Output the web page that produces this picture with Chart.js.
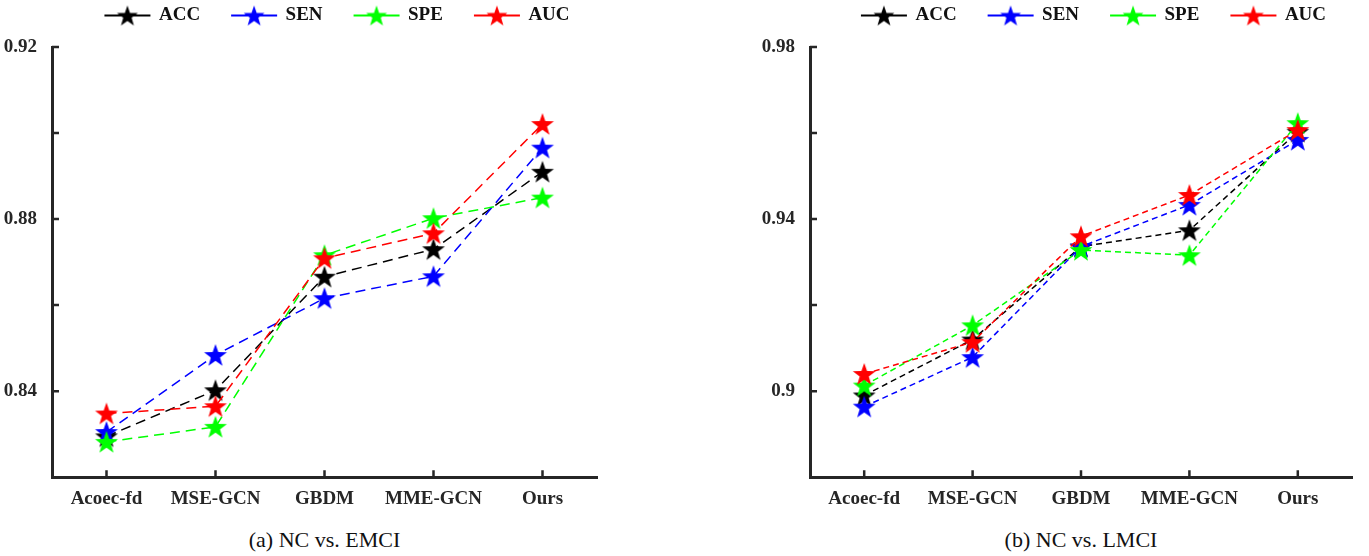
<!DOCTYPE html>
<html>
<head>
<meta charset="utf-8">
<script src="https://cdn.jsdelivr.net/npm/chart.js@4.4.1/dist/chart.umd.min.js"></script>
<style>
  html, body { margin: 0; padding: 0; background: #fff; overflow: hidden; }
  body { width: 1369px; height: 556px; position: relative; }
  .panel { position: absolute; top: 0; }
  .caption {
    position: absolute; top: 527px; font-family: "Liberation Serif", "DejaVu Serif", serif;
    font-size: 22px; color: #111; text-align: center; white-space: nowrap;
  }
</style>
</head>
<body>
<div class="panel" style="left:0;width:640px;height:522px"><canvas id="chartA" width="640" height="522"></canvas></div>
<div class="panel" style="left:758px;width:611px;height:522px"><canvas id="chartB" width="611" height="522"></canvas></div>
<div class="caption" style="left:52px;width:545px">(a) NC vs. EMCI</div>
<div class="caption" style="left:810px;width:542px">(b) NC vs. LMCI</div>
<script>
// ---------------------------------------------------------------------------
// Data
// ---------------------------------------------------------------------------
const METHODS = ["Acoec-fd", "MSE-GCN", "GBDM", "MME-GCN", "Ours"];
const SERIES = ["ACC", "SEN", "SPE", "AUC"];

// (a) NC vs. EMCI
const emciAcc = [0.8295, 0.8402, 0.8666, 0.8730, 0.8910];
const emciSen = [0.8305, 0.8484, 0.8616, 0.8667, 0.8966];
const emciSpe = [0.8282, 0.8317, 0.8716, 0.8802, 0.8850];
const emciAuc = [0.8348, 0.8365, 0.8709, 0.8767, 0.9021];

// (b) NC vs. LMCI
const lmciAcc = [0.8990, 0.9120, 0.9336, 0.9374, 0.9603];
const lmciSen = [0.8964, 0.9079, 0.9336, 0.9433, 0.9584];
const lmciSpe = [0.9013, 0.9153, 0.9328, 0.9316, 0.9623];
const lmciAuc = [0.9040, 0.9114, 0.9360, 0.9456, 0.9607];

const COLORS = ["#000000", "#0000ff", "#00ff00", "#ff0000"];
const AXIS = "#262626";
const FONT = "'Liberation Serif', 'Times New Roman', serif";

// ---------------------------------------------------------------------------
// Marker images: filled five-point star, and line + star for the legend
// ---------------------------------------------------------------------------
function starPath(ctx, cx, cy, r) {
  ctx.beginPath();
  for (let i = 0; i < 10; i++) {
    const a = -Math.PI / 2 + i * Math.PI / 5;
    const rr = i % 2 ? r * 0.4 : r;
    const px = cx + rr * Math.cos(a), py = cy + rr * Math.sin(a);
    i ? ctx.lineTo(px, py) : ctx.moveTo(px, py);
  }
  ctx.closePath();
}

function starImg(color, r) {
  const c = document.createElement("canvas");
  c.width = c.height = Math.ceil(2 * r + 4);
  const ctx = c.getContext("2d");
  starPath(ctx, c.width / 2, c.height / 2 + 1, r);
  ctx.fillStyle = color;
  ctx.fill();
  return c;
}

function legendImg(color) {
  const c = document.createElement("canvas");
  c.width = 80; c.height = 26;
  const ctx = c.getContext("2d");
  ctx.strokeStyle = color;
  ctx.lineWidth = 2;
  ctx.beginPath(); ctx.moveTo(30, 13); ctx.lineTo(76, 13); ctx.stroke();
  starPath(ctx, 53, 14, 11);
  ctx.fillStyle = color;
  ctx.fill();
  return c;
}

const starImgs = COLORS.map(c => starImg(c, 12));
const legendImgs = COLORS.map(c => legendImg(c));

// inward tick marks on both axes
const innerTicks = {
  id: "innerTicks",
  afterDraw(chart) {
    const { ctx, chartArea, scales: { x, y } } = chart;
    ctx.save();
    ctx.strokeStyle = AXIS;
    ctx.lineWidth = 2.5;
    ctx.beginPath();
    y.ticks.forEach((t, i) => {
      const py = y.getPixelForTick(i);
      ctx.moveTo(chartArea.left, py); ctx.lineTo(chartArea.left + 7, py);
    });
    x.ticks.forEach((t, i) => {
      const px = x.getPixelForTick(i);
      ctx.moveTo(px, chartArea.bottom); ctx.lineTo(px, chartArea.bottom - 7);
    });
    ctx.stroke();
    ctx.restore();
  }
};

// legend sits in a 47px band above the plot
const legendBand = {
  id: "legendBand",
  beforeInit(chart) {
    const fit = chart.legend.fit;
    chart.legend.fit = function () {
      fit.call(this);
      this.height = 47;
    };
  }
};

function makeChart(id, seriesValues, yMin, yMax, dash, padRight) {
  const datasets = SERIES.map((name, i) => ({
    label: name,
    data: seriesValues[i],
    borderColor: COLORS[i],
    backgroundColor: COLORS[i],
    borderWidth: 1.5,
    borderDash: dash,
    pointStyle: starImgs[i],
    pointRadius: 12,
    pointHoverRadius: 12,
    order: SERIES.length - i,   // AUC drawn on top
    tension: 0,
  }));

  return new Chart(document.getElementById(id), {
    type: "line",
    data: { labels: METHODS, datasets },
    plugins: [innerTicks, legendBand],
    options: {
      responsive: false,
      animation: false,
      events: [],
      layout: { padding: { left: 0, right: padRight, top: 0, bottom: 10 } },
      plugins: {
        tooltip: { enabled: false },
        legend: {
          position: "top",
          fullSize: false,
          labels: {
            usePointStyle: true,
            pointStyleWidth: 70,
            padding: 6,
            color: "#111",
            font: { family: FONT, size: 19, weight: "bold" },
            sort: (a, b) => a.datasetIndex - b.datasetIndex,
            generateLabels(chart) {
              const items = Chart.defaults.plugins.legend.labels.generateLabels(chart);
              items.forEach(it => { it.pointStyle = legendImgs[it.datasetIndex]; });
              return items;
            }
          }
        }
      },
      scales: {
        x: {
          offset: true,
          grid: { display: false },
          border: { display: true, color: AXIS, width: 3 },
          ticks: { color: AXIS, padding: 2, font: { family: FONT, size: 19, weight: "bold" }, maxRotation: 0 }
        },
        y: {
          min: yMin,
          max: yMax,
          afterFit(scale) { scale.width = 52; },
          grid: { display: false },
          border: { display: true, color: AXIS, width: 3 },
          ticks: {
            stepSize: 0.02,
            padding: 7,
            color: AXIS,
            font: { family: FONT, size: 19, weight: "bold" },
            callback: (v, i) => (i % 2 === 1 ? String(parseFloat(Number(v).toFixed(2))) : "")
          }
        }
      }
    }
  });
}

makeChart("chartA", [emciAcc, emciSen, emciSpe, emciAuc], 0.82, 0.92, [10, 6], 43);
makeChart("chartB", [lmciAcc, lmciSen, lmciSpe, lmciAuc], 0.88, 0.98, [6, 4], 17);
</script>
</body>
</html>
